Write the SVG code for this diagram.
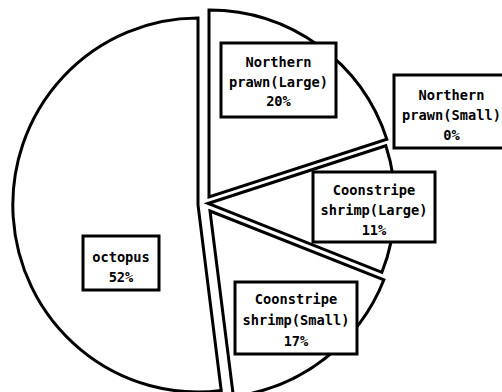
<svg xmlns="http://www.w3.org/2000/svg" width="502" height="392" viewBox="0 0 502 392">
<defs>
<style>
.slice{fill:#fff;stroke:#000;stroke-width:3;stroke-linejoin:miter}
.box{fill:#fff;stroke:#000;stroke-width:3}
.lbl{font-family:"DejaVu Sans Mono","Liberation Mono",monospace;font-weight:bold;font-size:13.7px;fill:#000;text-anchor:middle}
</style>
</defs>
<rect width="502" height="392" fill="#fff"/>
<g id="octopus">
<path class="slice" d="M198,205 L198,18 A185,187 0 1 0 221.2,390.5 Z"/>
<rect class="box" x="83" y="236" width="76" height="54"/>
<text class="lbl" x="121" y="261.5">octopus</text>
<text class="lbl" x="121" y="281.5">52%</text>
</g>
<g id="northern-prawn-large">
<path class="slice" d="M209,197 L209,10 A187,187 0 0 1 386.85,139.2 Z"/>
<rect class="box" x="221" y="43" width="115" height="74"/>
<text class="lbl" x="278.5" y="66.5">Northern</text>
<text class="lbl" x="278.5" y="86.5">prawn(Large)</text>
<text class="lbl" x="278.5" y="106">20%</text>
</g>
<g id="northern-prawn-small">
<rect class="box" x="394" y="75" width="116" height="73"/>
<text class="lbl" x="451.5" y="99.5">Northern</text>
<text class="lbl" x="451.5" y="120">prawn(Small)</text>
<text class="lbl" x="451.5" y="140">0%</text>
</g>
<g id="coonstripe-large">
<path class="slice" d="M208,203.5 L385.85,145.7 A187,187 0 0 1 381.9,272.3 Z"/>
<rect class="box" x="313" y="172" width="122" height="70"/>
<text class="lbl" x="374" y="195">Coonstripe</text>
<text class="lbl" x="374" y="215">shrimp(Large)</text>
<text class="lbl" x="374" y="234.5">11%</text>
</g>
<g id="coonstripe-small">
<path class="slice" d="M210,211 L383.9,279.8 A187,187 0 0 1 233.4,396.5 Z"/>
<rect class="box" x="235" y="282" width="122" height="72"/>
<text class="lbl" x="296" y="304">Coonstripe</text>
<text class="lbl" x="296" y="325">shrimp(Small)</text>
<text class="lbl" x="296" y="345.5">17%</text>
</g>
<g id="connectors"/>
</svg>
